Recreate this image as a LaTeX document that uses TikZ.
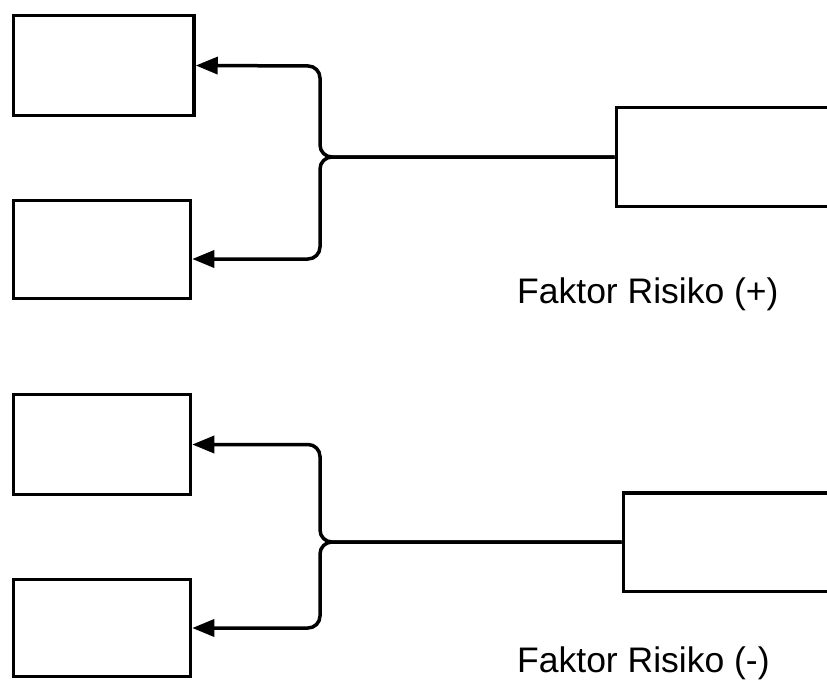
\documentclass[tikz,border=0pt]{standalone}
\usepackage{fontspec}
\setmainfont{Liberation Sans}
\usetikzlibrary{arrows.meta}

\begin{document}
\begin{tikzpicture}[x=1pt,y=-1pt]
\tikzset{box/.style={draw,line width=3.5pt,inner sep=0pt,minimum width=177pt,minimum height=99pt},
  link/.style={line width=3.5pt,rounded corners=12pt,-{Triangle[length=22pt,width=17pt]}},
  lbl/.style={anchor=base west,inner sep=0pt,font=\fontsize{35.5}{42}\selectfont}}
\useasboundingbox (0,0) rectangle (827,680);
% left boxes
\node[box,minimum width=180.5pt,minimum height=100pt] (a1) at (103.75,65.5) {};
\node[box,minimum height=98pt] (a2) at (102,249.5) {};
\node[box,minimum height=100pt] (b1) at (102,444.5) {};
\node[box,minimum height=97pt] (b2) at (102,628) {};
% right boxes
\node[box,anchor=west,minimum width=300pt] (r1) at (614.5,157) {};
\node[box,anchor=west,minimum width=300pt,minimum height=98.5pt] (r2) at (621.5,542) {};
% labels
\node[lbl] (plus) at (517,303) {Faktor Risiko (+)};
\node[lbl] (minus) at (517,672) {Faktor Risiko (-)};
% brackets
\draw[link] (r1.west) -- (320,157) -- (320,66) -- (a1.east);
\draw[link] (r1.west) -- (320,157) -- (320,259) -- ([yshift=-9.5pt]a2.east);
\draw[link] (r2.west) -- (320,542) -- (320,444.5) -- (b1.east);
\draw[link] (r2.west) -- (320,542) -- (320,628) -- (b2.east);
\end{tikzpicture}
\end{document}
